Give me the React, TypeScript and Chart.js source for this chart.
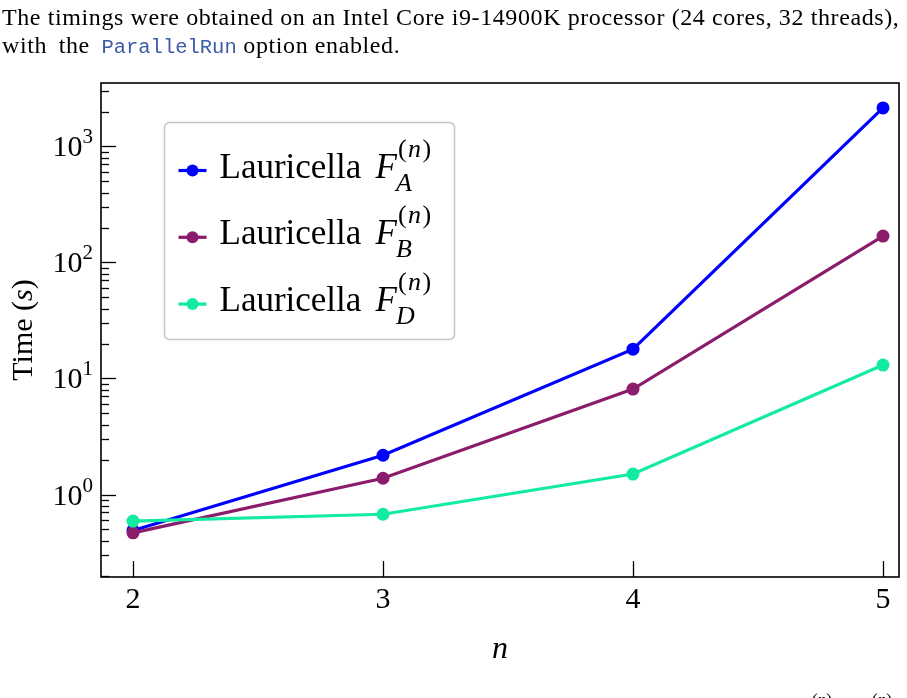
import React, { useEffect, useRef } from "react";
import { Chart, registerables } from "chart.js";

Chart.register(...registerables);

// ---- data ----
const nValues = [2, 3, 4, 5];
const timesFA = [0.49, 2.18, 17.9, 2150];
const timesFB = [0.467, 1.38, 8.1, 169];
const timesFD = [0.59, 0.676, 1.5, 13.05];
const seriesSubscripts = ["A", "B", "D"];
const seriesColors = ["#0000ff", "#8b1c6c", "#12eba0"];
const xTickValues = [2, 3, 4, 5];
const yDecadeExponents = [0, 1, 2, 3];

const SERIF = '"Liberation Serif", "DejaVu Serif", serif';

const decorPlugin = {
  id: "decor",
  afterDatasetsDraw(chart: any) {
    const { ctx, chartArea: ca, scales } = chart;
    const xs = scales.x;
    const ys = scales.y;
    ctx.save();
    ctx.strokeStyle = "#000";
    ctx.fillStyle = "#000";

    // inward y ticks (major + minor)
    ctx.lineWidth = 1.3;
    for (let k = -1; k <= 3; k++) {
      for (let m = 1; m <= 9; m++) {
        const v = m * Math.pow(10, k);
        if (v < ys.min || v > ys.max) continue;
        const py = Math.round(ys.getPixelForValue(v)) + 0.5;
        const len = m === 1 ? 15 : 8;
        ctx.beginPath();
        ctx.moveTo(ca.left, py);
        ctx.lineTo(ca.left + len, py);
        ctx.stroke();
      }
    }
    // inward x ticks
    for (const t of xTickValues) {
      const px = Math.round(xs.getPixelForValue(t)) + 0.5;
      ctx.beginPath();
      ctx.moveTo(px, ca.bottom);
      ctx.lineTo(px, ca.bottom - 16);
      ctx.stroke();
    }

    // frame
    ctx.lineWidth = 1.6;
    ctx.strokeRect(ca.left, ca.top, ca.right - ca.left, ca.bottom - ca.top);

    // y tick labels 10^k
    ctx.textBaseline = "alphabetic";
    for (const e of yDecadeExponents) {
      const py = ys.getPixelForValue(Math.pow(10, e));
      const rightX = ca.left - 8;
      ctx.font = `21px ${SERIF}`;
      ctx.textAlign = "right";
      const ew = ctx.measureText(String(e)).width;
      ctx.fillText(String(e), rightX, py - 3);
      ctx.font = `30px ${SERIF}`;
      ctx.fillText("10", rightX - ew, py + 10);
    }

    // x tick labels
    ctx.font = `30px ${SERIF}`;
    ctx.textAlign = "center";
    for (const t of xTickValues) {
      const px = xs.getPixelForValue(t);
      ctx.fillText(String(t), px, ca.bottom + 31);
    }

    // x axis title (italic n)
    ctx.font = `italic 32px ${SERIF}`;
    ctx.fillText("n", (ca.left + ca.right) / 2, ca.bottom + 81);

    // y axis title "Time (s)"
    ctx.save();
    ctx.translate(32, (ca.top + ca.bottom) / 2);
    ctx.rotate(-Math.PI / 2);
    const parts: [string, string][] = [
      ["Time (", `30px ${SERIF}`],
      ["s", `italic 30px ${SERIF}`],
      [")", `30px ${SERIF}`],
    ];
    let total = 0;
    for (const [txt, f] of parts) {
      ctx.font = f;
      total += ctx.measureText(txt).width;
    }
    let x = -total / 2;
    ctx.textAlign = "left";
    for (const [txt, f] of parts) {
      ctx.font = f;
      ctx.fillText(txt, x, 0);
      x += ctx.measureText(txt).width;
    }
    ctx.restore();

    // legend
    const box = { left: 164.5, top: 122.5, w: 290, h: 217 };
    ctx.beginPath();
    const r = 5;
    ctx.moveTo(box.left + r, box.top);
    ctx.arcTo(box.left + box.w, box.top, box.left + box.w, box.top + box.h, r);
    ctx.arcTo(box.left + box.w, box.top + box.h, box.left, box.top + box.h, r);
    ctx.arcTo(box.left, box.top + box.h, box.left, box.top, r);
    ctx.arcTo(box.left, box.top, box.left + box.w, box.top, r);
    ctx.closePath();
    ctx.fillStyle = "rgba(255,255,255,0.85)";
    ctx.fill();
    ctx.strokeStyle = "#c4c4c4";
    ctx.lineWidth = 1.5;
    ctx.stroke();

    chart.data.datasets.forEach((ds: any, i: number) => {
      const cy = box.top + 48 + i * 66.8;
      const color = ds.borderColor;
      ctx.strokeStyle = color;
      ctx.fillStyle = color;
      ctx.lineWidth = 3.2;
      ctx.beginPath();
      ctx.moveTo(box.left + 14, cy);
      ctx.lineTo(box.left + 42, cy);
      ctx.stroke();
      ctx.beginPath();
      ctx.arc(box.left + 28, cy, 6, 0, Math.PI * 2);
      ctx.fill();

      ctx.fillStyle = "#000";
      ctx.textAlign = "left";
      let tx = box.left + 55;
      const base = cy + 7;
      ctx.font = `35px ${SERIF}`;
      ctx.fillText("Lauricella", tx, base);
      tx = box.left + 211;
      ctx.font = `italic 35px ${SERIF}`;
      ctx.fillText("F", tx, base);
      tx += ctx.measureText("F").width;
      // superscript (n)
      let sx = tx + 1;
      const supBase = base - 21;
      const supParts: [string, string][] = [
        ["(", `26px ${SERIF}`],
        ["n", `italic 26px ${SERIF}`],
        [")", `26px ${SERIF}`],
      ];
      for (const [txt, f] of supParts) {
        ctx.font = f;
        ctx.fillText(txt, sx, supBase);
        sx += ctx.measureText(txt).width + 1.5;
      }
      // subscript
      ctx.font = `italic 26px ${SERIF}`;
      ctx.fillText(ds.subscript, tx - 1, base + 13);
    });

    ctx.restore();
  },
};

export default function App() {
  const ref = useRef<HTMLCanvasElement | null>(null);

  useEffect(() => {
    if (!ref.current) return;
    const series = [timesFA, timesFB, timesFD];
    const chart = new Chart(ref.current, {
      type: "line",
      data: {
        datasets: series.map((vals, i) => ({
          label: `Lauricella F_${seriesSubscripts[i]}^(n)`,
          subscript: seriesSubscripts[i],
          data: nValues.map((n, j) => ({ x: n, y: vals[j] })),
          borderColor: seriesColors[i],
          backgroundColor: seriesColors[i],
          pointBackgroundColor: seriesColors[i],
          pointBorderWidth: 0,
          pointRadius: 6.5,
          pointHoverRadius: 6.5,
          borderWidth: 3.2,
          tension: 0,
          order: 2 - i,
        })) as any,
      },
      options: {
        responsive: false,
        animation: false,
        devicePixelRatio: 1,
        layout: { padding: { left: 101, top: 83, right: 8, bottom: 121 } },
        plugins: { legend: { display: false }, tooltip: { enabled: false } },
        events: [],
        scales: {
          x: { type: "linear", min: 1.872, max: 5.064, bounds: "data", display: false },
          y: { type: "logarithmic", min: 0.1945, max: 3524, bounds: "data", display: false },
        },
      },
      plugins: [decorPlugin],
    });
    return () => chart.destroy();
  }, []);

  return (
    <div
      style={{
        position: "fixed",
        left: 0,
        top: 0,
        width: 907,
        height: 698,
        background: "#fff",
        overflow: "hidden",
      }}
    >
      <canvas
        ref={ref}
        width={907}
        height={698}
        style={{ position: "absolute", left: 0, top: 0, width: 907, height: 698 }}
      />
      <div
        style={{
          position: "absolute",
          left: 2,
          top: 3,
          fontFamily: SERIF,
          fontSize: 24,
          letterSpacing: "0.6px",
          lineHeight: "28px",
          whiteSpace: "nowrap",
          color: "#000",
        }}
      >
        The timings were obtained on an Intel Core i9-14900K processor (24 cores, 32 threads),
        <br />
        <span style={{ wordSpacing: "5px" }}>with the </span>
        <span
          style={{
            fontFamily: '"Liberation Mono", monospace',
            fontSize: 20.5,
            letterSpacing: "0px",
            color: "#3b5aa8",
          }}
        >
          ParallelRun
        </span>{" "}
        option enabled.
      </div>
      <div
        style={{
          position: "absolute",
          top: 691,
          left: 812,
          fontFamily: SERIF,
          fontSize: 17,
          lineHeight: "17px",
          whiteSpace: "nowrap",
        }}
      >
        (<i>n</i>)
      </div>
      <div
        style={{
          position: "absolute",
          top: 691,
          left: 872,
          fontFamily: SERIF,
          fontSize: 17,
          lineHeight: "17px",
          whiteSpace: "nowrap",
        }}
      >
        (<i>n</i>)
      </div>
    </div>
  );
}
